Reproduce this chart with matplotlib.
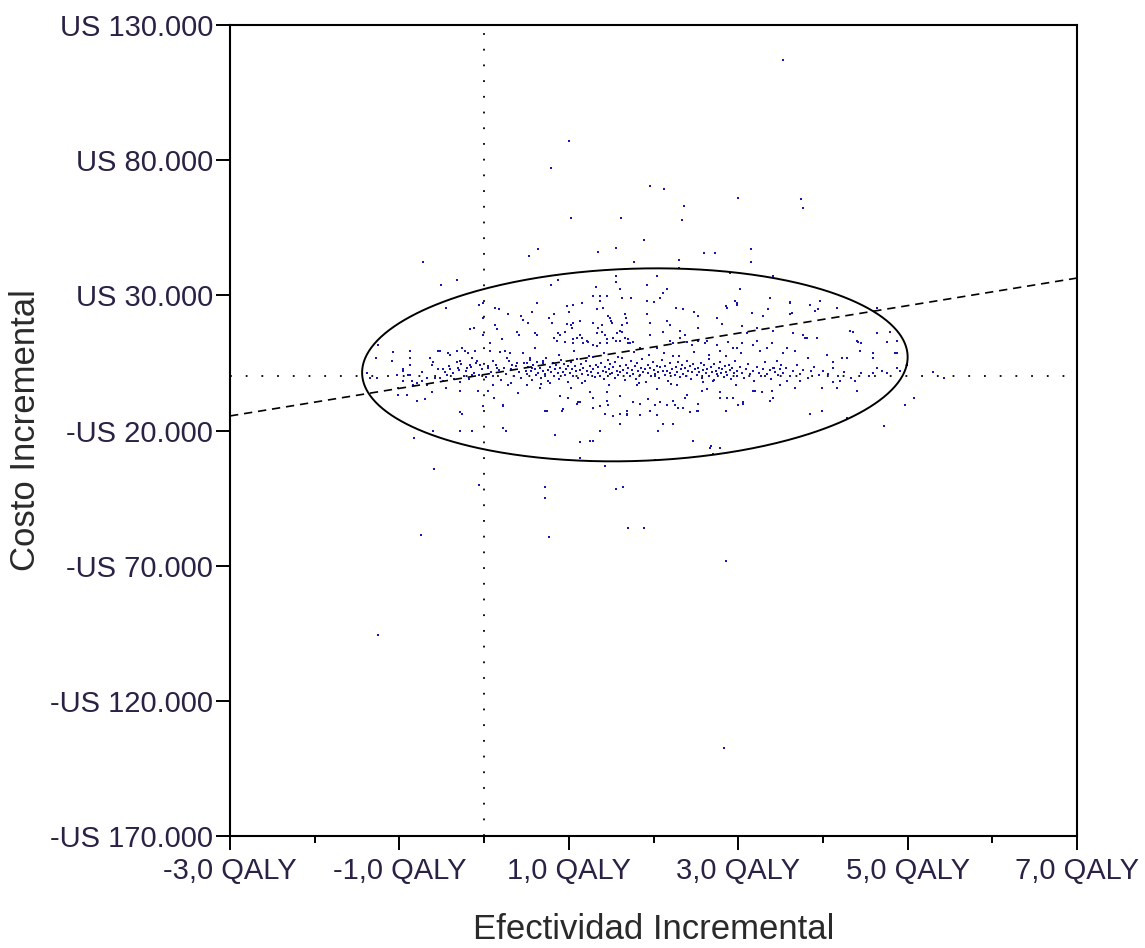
import numpy as np
import matplotlib.pyplot as plt

plt.rcParams['font.family'] = ['Liberation Sans', 'DejaVu Sans']

# axis ticks
x_major = [-3, -1, 1, 3, 5, 7]
x_minor = [-2, 0, 2, 4, 6]
x_labels = ["-3,0 QALY", "-1,0 QALY", "1,0 QALY", "3,0 QALY", "5,0 QALY", "7,0 QALY"]
y_major = [130000, 80000, 30000, -20000, -70000, -120000, -170000]
y_labels = ["US 130.000", "US 80.000", "US 30.000", "-US 20.000",
            "-US 70.000", "-US 120.000", "-US 170.000"]

# simulations (QALY, cost in thousands US$)
upper_tail = [
    (3.53, 116.9), (1.00, 87.0), (0.79, 77.0), (1.96, 70.3), (2.12, 69.5), (3.00, 66.2),
    (3.74, 65.5), (3.77, 62.2), (2.36, 62.9), (2.34, 57.7), (1.03, 58.8), (1.62, 58.8),
    (1.89, 50.3), (0.64, 47.0), (0.53, 44.4), (1.35, 46.2), (1.56, 47.7), (2.60, 45.5),
    (2.73, 45.5), (3.15, 47.0), (3.15, 42.2), (2.30, 42.9), (2.30, 40.3), (1.77, 42.2),
    (-0.72, 42.2), (1.56, 37.0), (2.04, 37.0), (2.90, 38.1), (3.41, 37.0), (-0.32, 35.5),
    (-0.51, 34.0), (1.56, 34.8), (0.79, 34.0), (0.87, 35.5), (1.32, 33.0), (1.61, 32.2),
    (1.29, 29.6), (1.37, 29.6), (1.45, 29.6), (1.37, 28.0), (1.63, 28.9), (1.74, 28.9),
    (1.92, 33.7), (2.16, 32.2), (2.08, 29.2), (2.00, 27.4), (1.92, 28.1), (2.11, 30.7),
    (3.02, 32.2), (2.96, 28.1), (2.99, 26.3), (3.38, 29.2), (3.61, 27.4), (3.97, 28.1),
]
lower_tail = [
    (-0.59, -34.4), (-0.06, -40.0), (-0.74, -58.5), (0.72, -41.0), (0.72, -45.1),
    (0.77, -59.2), (1.56, -41.8), (1.64, -41.0), (1.70, -55.9), (1.89, -55.9),
    (1.43, -33.3), (1.13, -30.0), (1.13, -24.4), (1.28, -23.7), (2.68, -25.9),
    (2.70, -28.5), (2.86, -68.4), (2.83, -137.3), (-1.25, -95.8), (2.47, -23.7),
    (2.02, -31.0), (-0.83, -22.6), (5.07, -7.8), (4.97, -10.4), (4.72, -18.5),
    (5.30, 1.8), (5.43, -0.4), (0.84, -21.8), (1.37, -20.0), (1.25, -23.7),
    (0.22, -18.9), (0.26, -20.0), (-0.28, -20.0), (-0.14, -20.0), (-0.60, -20.0),
    (2.11, -17.4), (2.05, -20.0), (2.23, -17.4), (2.67, -26.3), (2.79, -26.3),
    (1.61, -17.4), (4.29, -15.2),
]
band_upper = [
    (-0.45, 25.5), (-0.06, 26.3), (-0.01, 27.0), (0.13, 25.5), (0.18, 24.8), (0.28, 23.0),
    (0.43, 22.2), (0.63, 27.0), (0.98, 25.9), (1.05, 26.3), (1.16, 27.0), (1.33, 24.8),
    (1.40, 25.5), (2.27, 25.5), (2.35, 24.8), (2.48, 23.7), (2.53, 22.2), (2.85, 25.9),
    (2.99, 27.0), (3.29, 22.2), (3.35, 24.8), (3.61, 27.0), (3.61, 23.0), (3.94, 24.8),
    (4.17, 25.5), (3.85, 26.3), (4.64, 25.5), (2.75, 21.8), (2.87, 25.5), (3.16, 23.3),
    (3.64, 23.3), (3.91, 24.4), (1.00, 24.0), (0.57, 23.9), (0.46, 21.0),
    (-0.01, 21.5), (-0.17, 17.4), (-0.12, 18.1), (-0.01, 15.5), (0.13, 18.9), (0.15, 17.4),
    (0.39, 16.3), (0.41, 15.2), (0.52, 19.6), (0.60, 15.9), (0.63, 15.2), (0.77, 21.5),
    (0.80, 19.6), (1.13, 20.7), (1.03, 18.9), (1.46, 22.2), (1.50, 20.7), (1.68, 21.5),
    (1.69, 19.6), (1.63, 16.3), (0.21, 13.7), (0.82, 23.0), (0.98, 19.3), (1.05, 19.6),
    (1.04, 18.1), (1.29, 19.6), (1.35, 18.1), (1.39, 18.9), (1.49, 21.5), (1.51, 19.6),
    (1.63, 18.9), (1.66, 23.0), (1.61, 17.0), (1.92, 23.0), (1.96, 19.6), (2.16, 20.4),
    (2.20, 18.9), (2.31, 17.0), (2.81, 19.3), (3.05, 18.5), (3.10, 15.9), (3.41, 17.0),
    (3.65, 15.9), (2.52, 18.1), (3.22, 18.1), (4.32, 17.0), (4.36, 16.3), (4.64, 15.9),
    (4.40, 13.3), (4.44, 9.6), (4.23, 7.0), (4.59, 6.7), (4.88, 13.3), (4.85, 8.5),
    (4.87, 3.3), (4.64, 3.3), (4.76, 1.1), (3.81, 14.1), (3.58, 10.7), (3.82, 6.7),
    (3.46, 5.9), (3.50, 4.1), (3.41, 3.0), (3.34, 10.7), (3.22, 13.3), (2.99, 10.7),
    (2.79, 9.6), (0.82, 14.4), (0.86, 13.3), (0.87, 15.9), (0.96, 12.6), (1.05, 12.2),
    (1.10, 14.1), (1.16, 14.4), (1.17, 12.2), (1.23, 12.6), (1.29, 11.5), (1.33, 15.9),
    (1.39, 16.3), (1.43, 15.2), (1.45, 12.2), (1.52, 14.4), (1.57, 15.9), (1.61, 13.3),
    (1.66, 14.4), (1.70, 12.2), (1.76, 12.6), (1.84, 10.7), (1.96, 15.2), (2.04, 10.7),
    (2.11, 16.3), (2.20, 13.3), (2.23, 12.2), (2.31, 14.1), (2.37, 15.2), (2.39, 12.6),
    (2.46, 11.5), (2.52, 13.3), (2.61, 12.2), (2.63, 13.3), (2.75, 11.5), (2.88, 12.6),
    (2.94, 10.7), (3.05, 12.2), (3.18, 11.5), (3.26, 9.6), (3.40, 12.2), (3.53, 8.5),
    (3.67, 9.6), (3.77, 15.2), (3.79, 14.1), (3.93, 14.1), (4.05, 7.8), (4.12, 5.2),
    (4.29, 7.0), (4.35, 16.3), (4.41, 12.6), (4.45, 12.2), (4.64, 15.9), (4.76, 12.6),
    (4.79, 16.3), (4.87, 8.5), (4.59, 8.5), (4.91, 2.2), (1.33, 11.1), (1.37, 12.2),
    (1.45, 13.7), (1.56, 13.0), (1.70, 13.7), (1.72, 12.2), (0.90, 15.5), (0.96, 16.3),
    (1.05, 13.7), (1.13, 15.5), (1.22, 13.0), (0.07, 12.2), (0.60, 10.7),
]
band_side = [
    (-1.38, 1.1), (-1.35, -0.4), (-1.26, -0.4), (-1.28, 7.0), (-1.25, 11.5), (-1.07, 8.9),
    (-1.09, 5.9), (-1.03, 0.7), (-0.96, 2.6), (-0.96, -1.5), (-0.87, 9.6), (-0.87, 7.0),
    (-0.88, 4.1), (-0.87, 0.7), (-1.02, -6.7), (-0.91, -6.7), (-0.79, -9.2), (-0.70, -8.5),
    (-0.79, -2.6), (-0.67, -0.7), (-0.64, 6.7), (-0.61, 4.1), (-0.55, 2.6), (-0.52, 9.6),
    (-0.52, -0.4), (-0.46, 1.5), (-0.40, 7.8), (-0.40, 2.6), (-0.32, 9.6), (-0.28, 5.9),
    (-0.28, -1.9), (-0.28, -5.2), (-0.28, -13.3), (-0.20, 3.0), (-0.17, 4.1), (-0.14, 0.4),
    (-0.11, 9.6), (-0.08, 5.9), (-0.60, 5.2), (-0.54, 9.6), (-0.43, 8.5), (-0.26, 10.7),
    (-0.22, 9.6), (-0.19, 8.5), (-0.14, 6.7), (-0.32, 5.2), (-0.31, 3.3), (-1.03, 0.4),
    (-0.90, 0.4), (-0.85, -1.5), (-0.84, -3.3), (-0.73, -1.5), (-0.67, -3.3), (-0.58, -0.7),
    (-0.48, -1.5), (-0.96, 2.2), (-0.73, 1.5), (-1.02, -4.4), (-0.07, -5.2), (0.04, -5.2),
    (0.11, -3.3), (0.28, -3.3), (0.51, -3.3), (0.66, -4.4), (-0.26, -13.7), (-0.01, -11.1),
    (0.22, -11.1), (0.72, -12.6), (0.22, -10.7), (0.92, -12.6),
]
band_core = [
    (-0.48, 2.9), (-0.44, 0.6), (-0.41, 3.8), (-0.37, 1.2), (-0.35, -1.1), (-0.30, 2.4),
    (-0.27, 4.6), (-0.24, 0.2), (-0.21, 2.0), (-0.18, -0.8), (-0.15, 3.5), (-0.12, 1.4),
    (-0.09, 5.1), (-0.06, 0.7), (-0.03, 2.8), (0.02, -0.3), (0.05, 3.9), (0.08, 1.8),
    (0.11, 0.1), (0.14, 4.4), (0.17, 2.3), (0.20, -1.2), (0.23, 3.1), (0.26, 1.0),
    (0.29, 5.6), (0.32, 2.6), (0.35, 0.3), (0.38, 3.7), (0.41, 1.6), (0.44, -0.6),
    (0.47, 4.9), (0.49, 2.1), (0.51, 0.8), (0.52, 3.4), (0.54, 6.2), (0.55, 1.9),
    (0.57, -1.4), (0.58, 4.3), (0.60, 2.7), (0.61, 0.4), (0.63, 5.5), (0.64, 1.3),
    (0.66, 3.0), (0.67, -0.5), (0.69, 2.2), (0.70, 4.8), (0.72, 0.9), (0.73, 6.7),
    (0.75, 2.5), (0.76, -1.8), (0.78, 3.6), (0.79, 1.5), (0.81, 5.1), (0.82, 0.2),
    (0.84, 2.9), (0.85, 4.1), (0.87, 1.1), (0.88, -0.9), (0.90, 3.3), (0.91, 6.0),
    (0.93, 1.8), (0.94, 4.5), (0.96, 0.6), (0.97, 2.6), (0.99, -2.1), (0.99, 3.9),
    (1.01, 1.4), (1.02, 5.3), (1.04, 2.8), (1.05, 0.1), (1.07, 3.7), (1.08, 1.9),
    (1.10, 6.4), (1.11, -0.7), (1.13, 2.4), (1.14, 4.6), (1.16, 1.0), (1.17, 3.2),
    (1.19, -1.6), (1.20, 5.8), (1.22, 2.0), (1.23, 0.5), (1.25, 3.9), (1.26, 1.5),
    (1.28, 7.1), (1.29, 2.7), (1.31, -0.2), (1.32, 4.3), (1.34, 1.2), (1.35, 3.4),
    (1.37, 0.3), (1.38, 5.0), (1.40, 2.2), (1.41, -1.0), (1.43, 3.6), (1.44, 1.7),
    (1.46, 6.1), (1.47, 2.9), (1.49, 0.8), (1.49, 4.7), (1.51, 1.3), (1.52, 3.5),
    (1.54, -0.4), (1.55, 5.4), (1.57, 2.1), (1.58, 0.6), (1.60, 3.9), (1.61, 1.8),
    (1.63, 6.8), (1.64, 2.5), (1.66, -1.3), (1.67, 4.2), (1.69, 1.1), (1.70, 3.0),
    (1.72, 0.0), (1.73, 5.7), (1.75, 2.3), (1.76, 1.0), (1.78, 3.8), (1.79, -0.8),
    (1.81, 4.9), (1.82, 2.0), (1.84, 0.7), (1.85, 3.3), (1.87, 6.3), (1.88, 1.5),
    (1.90, 2.8), (1.91, -1.9), (1.93, 4.4), (1.94, 1.2), (1.96, 3.1), (1.97, 0.3),
    (1.99, 5.2), (2.01, 2.4), (2.02, 0.9), (2.04, 4.0), (2.05, 1.6), (2.07, -0.6),
    (2.08, 3.4), (2.10, 6.0), (2.11, 1.9), (2.13, 0.4), (2.14, 3.7), (2.16, 2.2),
    (2.17, -1.5), (2.19, 4.8), (2.20, 1.3), (2.22, 2.9), (2.23, 7.4), (2.25, 0.6),
    (2.26, 3.6), (2.28, 1.7), (2.29, 5.5), (2.31, -0.3), (2.32, 2.6), (2.34, 4.2),
    (2.35, 1.0), (2.37, 3.0), (2.38, 0.1), (2.40, 5.9), (2.41, 2.1), (2.43, 3.8),
    (2.44, -1.1), (2.46, 1.5), (2.47, 4.5), (2.49, 2.7), (2.51, 0.5), (2.53, 3.3),
    (2.54, 1.6), (2.56, 5.0), (2.57, -0.7), (2.59, 2.4), (2.60, 4.1), (2.62, 1.2),
    (2.63, 2.9), (2.65, 6.6), (2.66, 0.3), (2.68, 3.5), (2.69, 1.8), (2.71, -1.4),
    (2.72, 4.6), (2.74, 2.2), (2.75, 0.8), (2.77, 3.2), (2.78, 5.3), (2.80, 1.4),
    (2.81, 2.6), (2.83, -0.2), (2.84, 3.9), (2.86, 1.7), (2.87, 0.5), (2.89, 4.4),
    (2.90, 2.3), (2.92, -1.0), (2.93, 3.0), (2.95, 1.1), (2.96, 5.8), (2.98, 2.0),
    (2.99, 0.2), (3.02, 3.4), (3.04, 1.3), (3.07, -0.5), (3.09, 2.6), (3.12, 4.7),
    (3.14, 0.9), (3.17, 2.1), (3.19, -1.6), (3.22, 3.5), (3.24, 1.4), (3.27, 0.2),
    (3.29, 2.9), (3.32, 5.2), (3.34, 1.0), (3.37, 2.4), (3.39, -0.8), (3.42, 3.1),
    (3.44, 1.6), (3.47, 0.4), (3.49, 2.7), (3.53, 1.2), (3.57, 3.3), (3.61, 0.1),
    (3.65, 2.0), (3.69, 4.1), (3.73, 0.8), (3.77, 2.5), (3.82, -0.6), (3.86, 1.9),
    (3.90, 3.6), (3.95, 0.5), (4.00, 2.2), (4.06, 1.0), (4.12, 3.0), (4.18, 0.3),
    (4.25, 1.7), (4.33, -0.4), (4.45, 1.3), (4.55, 0.0), (0.88, 8.1), (1.06, 9.3),
    (1.24, 7.6), (1.42, 8.8), (1.58, 7.2), (1.77, 9.0), (1.95, 7.9), (2.12, 8.6),
    (2.30, 7.4), (2.48, 9.2), (2.66, 8.0), (2.85, 7.5), (3.03, 8.7), (1.15, -2.6),
    (1.47, -3.0), (1.83, -2.4), (2.21, -2.8), (2.58, -2.2), (2.97, -3.1), (0.67, -2.9),
    (0.32, -2.5), (0.19, 8.9), (0.25, 9.6), (0.27, 6.7), (0.31, 8.5), (0.33, 4.1),
    (0.39, 4.8), (0.46, 8.5), (0.51, 4.8), (0.54, 6.7), (0.57, 3.3), (0.60, 10.7),
    (0.70, 5.9), (-0.05, 4.1), (0.04, 3.0), (0.07, 9.6), (0.11, 5.9), (0.15, 3.3),
]
band_lower = [
    (0.78, -2.6), (0.90, -7.4), (1.02, -4.1), (1.13, -9.6), (1.25, -5.9), (1.37, -11.1),
    (1.45, -5.9), (1.52, -14.8), (1.61, -7.4), (1.69, -12.9), (1.81, -3.3), (1.93, -8.5),
    (2.04, -4.8), (2.16, -10.4), (2.28, -3.3), (2.40, -7.0), (2.52, -12.6), (2.63, -4.8),
    (0.74, -12.6), (0.93, -12.2), (1.10, -10.0), (1.29, -11.5), (1.45, -8.9), (1.69, -13.7),
    (1.84, -10.0), (1.96, -12.6), (2.04, -14.4), (2.23, -8.9), (2.35, -11.8), (2.52, -10.0),
    (2.70, -1.5), (2.79, -5.9), (2.87, -8.1), (2.94, -7.8), (3.06, -9.6), (3.18, -5.2),
    (3.28, -5.9), (3.37, -8.9), (3.49, -3.3), (3.58, -1.5), (3.67, -4.4), (3.73, -1.5),
    (3.99, -4.4), (4.12, -2.2), (4.20, -1.5), (4.40, -5.2), (4.59, 1.1), (4.70, 2.2),
    (4.38, -1.5), (2.85, -12.6), (3.06, -10.0), (3.99, -12.6), (0.99, -7.8), (1.11, -9.6),
    (1.29, -7.8), (1.46, -10.7), (1.43, -13.7), (1.61, -13.7), (1.69, -14.4), (1.76, -9.6),
    (1.84, -14.4), (2.02, -10.7), (2.08, -9.6), (2.25, -10.4), (2.29, -11.5), (2.43, -13.3),
    (2.37, -7.8), (2.79, -7.8), (3.00, -10.4), (3.20, -5.2), (3.40, -5.2), (3.41, -7.8),
    (3.85, -13.7), (4.17, -4.1), (2.51, -12.6), (2.57, -5.2), (0.40, -6.3), (0.12, -8.0),
    (-0.45, -4.1), (-0.62, -5.6),
]

# ellipse (center, semi-axes, shear) and the dashed ratio line
ell_cx, ell_cy = 1.78, 4.3
ell_a, ell_b, ell_shear = 3.21, 35.7, 0.26
line_x = [-3, 7]
line_y = [-14.6, 36.4]

groups = [upper_tail, lower_tail, band_upper, band_side, band_core, band_lower]
eff = np.array([p[0] for g in groups for p in g])
cost = np.array([p[1] for g in groups for p in g]) * 1000

fig = plt.figure(figsize=(11.45, 9.48), dpi=100)
ax = fig.add_axes([0.2009, 0.1181, 0.7397, 0.8555])

ax.axvline(0, color='black', lw=1.3, linestyle=(0, (1, 7.7)))
ax.axhline(0, color='black', lw=1.3, linestyle=(0, (1, 7.7)))

ax.scatter(eff, cost, s=4.5, marker='s', color='#1616b0', linewidths=0, zorder=3)

t = np.linspace(0, 2 * np.pi, 500)
ax.plot(ell_cx + ell_a * np.cos(t) + ell_shear * np.sin(t),
        (ell_cy + ell_b * np.sin(t)) * 1000, color='black', lw=1.4, zorder=4)
ax.plot(line_x, np.array(line_y) * 1000, color='black', lw=1.2,
        linestyle=(0, (5, 3.5)), zorder=4)

ax.set_xlim(-3, 7)
ax.set_ylim(-170000, 130000)
ax.set_xticks(x_major)
ax.set_xticklabels(x_labels)
ax.set_xticks(x_minor, minor=True)
ax.set_yticks(y_major)
ax.set_yticklabels(y_labels)

txt = '#2b2145'
ax.tick_params(axis='x', which='major', length=10, width=1.4, pad=5,
               labelsize=21, labelcolor=txt)
ax.tick_params(axis='x', which='minor', length=5, width=1.4)
ax.tick_params(axis='y', which='major', length=10, width=1.4, pad=2,
               labelsize=21, labelcolor=txt)
for s in ax.spines.values():
    s.set_linewidth(1.5)

ax.set_xlabel('Efectividad Incremental', fontsize=25, color='#2a2a2a', labelpad=20)
ax.set_ylabel('Costo Incremental', fontsize=25, color='#2a2a2a', labelpad=6)

fig.savefig('out.png', dpi=100)
